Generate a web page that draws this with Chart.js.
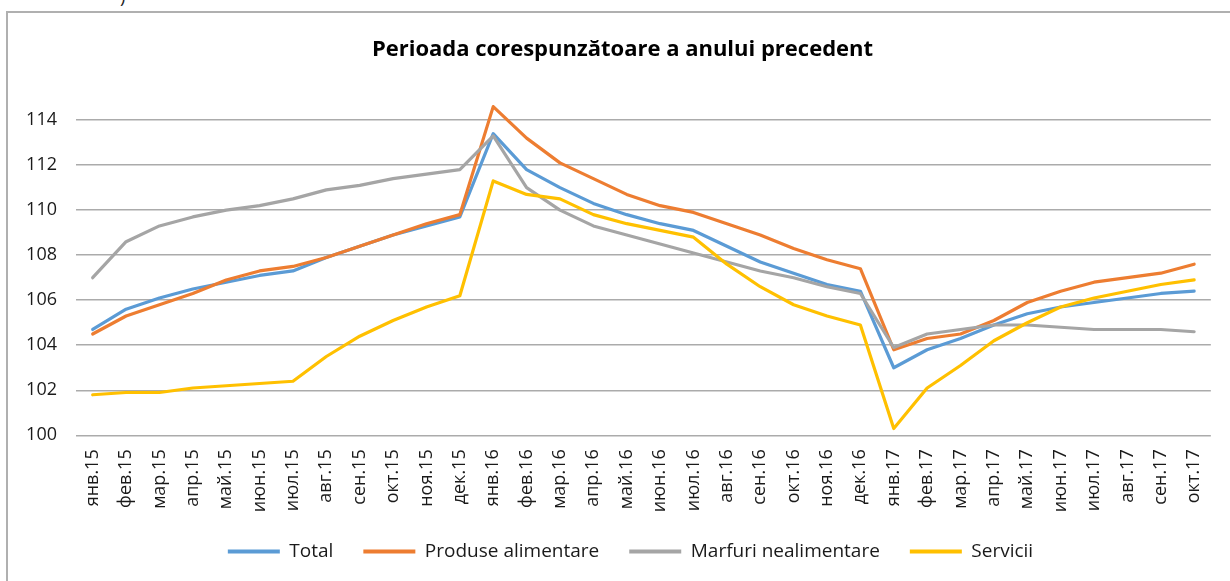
<!DOCTYPE html>
<html>
<head>
<meta charset="utf-8">
<script src="https://cdn.jsdelivr.net/npm/chart.js@4/dist/chart.umd.min.js"></script>
<style>
  html, body { margin: 0; padding: 0; background: #ffffff; }
  #wrap { position: relative; width: 1230px; height: 581px; overflow: hidden; }
  #frame { position: absolute; left: 6px; top: 11px; width: 1300px; height: 700px;
           border-left: 2px solid #b0b0b0; border-top: 2px solid #b0b0b0; pointer-events: none; }
  #stray { position: absolute; left: 118px; top: 0; width: 16px; height: 8px; overflow: hidden;
           font-family: "Open Sans", sans-serif; font-size: 18px; color: #222; }
  #stray span { position: absolute; left: 2px; top: -16px; }
  canvas { position: absolute; left: 0; top: 0; }
</style>
</head>
<body>
<div id="wrap">
  <div id="stray"><span>)</span></div>
  <canvas id="c" width="1230" height="581"></canvas>
  <div id="frame"></div>
</div>
<script>
const months = [
  "янв.15","фев.15","мар.15","апр.15","май.15","июн.15","июл.15","авг.15","сен.15","окт.15","ноя.15","дек.15",
  "янв.16","фев.16","мар.16","апр.16","май.16","июн.16","июл.16","авг.16","сен.16","окт.16","ноя.16","дек.16",
  "янв.17","фев.17","мар.17","апр.17","май.17","июн.17","июл.17","авг.17","сен.17","окт.17"
];
const total = [104.7,105.6,106.1,106.5,106.8,107.1,107.3,107.9,108.4,108.9,109.3,109.7,
  113.4,111.8,111.0,110.3,109.8,109.4,109.1,108.4,107.7,107.2,106.7,106.4,
  103.0,103.8,104.3,104.9,105.4,105.7,105.9,106.1,106.3,106.4];
const produseAlimentare = [104.5,105.3,105.8,106.3,106.9,107.3,107.5,107.9,108.4,108.9,109.4,109.8,
  114.6,113.2,112.1,111.4,110.7,110.2,109.9,109.4,108.9,108.3,107.8,107.4,
  103.8,104.3,104.5,105.1,105.9,106.4,106.8,107.0,107.2,107.6];
const marfuriNealimentare = [107.0,108.6,109.3,109.7,110.0,110.2,110.5,110.9,111.1,111.4,111.6,111.8,
  113.3,111.0,110.0,109.3,108.9,108.5,108.1,107.7,107.3,107.0,106.6,106.3,
  103.9,104.5,104.7,104.9,104.9,104.8,104.7,104.7,104.7,104.6];
const servicii = [101.8,101.9,101.9,102.1,102.2,102.3,102.4,103.5,104.4,105.1,105.7,106.2,
  111.3,110.7,110.5,109.8,109.4,109.1,108.8,107.6,106.6,105.8,105.3,104.9,
  100.3,102.1,103.1,104.2,105.0,105.7,106.1,106.4,106.7,106.9];
const seriesNames = ["Total","Produse alimentare","Marfuri nealimentare","Servicii"];
const yTicks = [100,102,104,106,108,110,112,114];
const titleText = "Perioada corespunzătoare a anului precedent";

const colors = ["#5B9BD5","#ED7D31","#A5A5A5","#FFC000"];
const seriesData = [total, produseAlimentare, marfuriNealimentare, servicii];
const FONT = "'Open Sans', 'Liberation Sans', sans-serif";

const datasets = seriesData.map((d, i) => ({
  label: seriesNames[i],
  data: d,
  borderColor: colors[i],
  backgroundColor: colors[i],
  borderWidth: 3.2,
  pointRadius: 0,
  pointHoverRadius: 0,
  tension: 0,
  fill: false,
  borderCapStyle: "round",
  borderJoinStyle: "round",
  pointStyle: "line",
  order: seriesData.length - 1 - i
}));

// shift the centred title and legend slightly right, as in the reference
const shiftBlocks = {
  id: "shiftBlocks",
  afterLayout(chart) {
    if (chart.legend) { chart.legend.left += 13; chart.legend.right += 13; }
    if (chart.titleBlock) { chart.titleBlock.left += 5; chart.titleBlock.right += 5; }
  }
};

new Chart(document.getElementById("c"), {
  type: "line",
  data: { labels: months, datasets },
  plugins: [shiftBlocks],
  options: {
    responsive: false,
    animation: false,
    events: [],
    layout: { padding: { left: 22, right: 17, top: 0, bottom: 10 } },
    plugins: {
      tooltip: { enabled: false },
      title: {
        display: true,
        text: titleText,
        color: "#000000",
        font: { family: FONT, size: 22, weight: "bold", lineHeight: 1.2 },
        padding: { top: 36.8, bottom: 34.4 }
      },
      legend: {
        display: true,
        position: "bottom",
        labels: {
          usePointStyle: true,
          pointStyleWidth: 52,
          boxHeight: 19,
          padding: 30,
          color: "#1a1a1a",
          font: { family: FONT, size: 19 },
          sort: (a, b) => a.datasetIndex - b.datasetIndex,
          generateLabels: chart => {
            const items = Chart.defaults.plugins.legend.labels.generateLabels(chart);
            items.forEach(it => { it.lineWidth = 4; });
            return items;
          }
        }
      }
    },
    scales: {
      x: {
        type: "category",
        offset: true,
        grid: { display: false, drawTicks: false },
        border: { display: false },
        ticks: {
          autoSkip: false,
          minRotation: 90,
          maxRotation: 90,
          padding: 14,
          color: "#1a1a1a",
          font: { family: FONT, size: 18 }
        },
        afterFit: s => { s.height = 76.7; }
      },
      y: {
        min: 100,
        max: 115,
        grid: { color: "#ababab", lineWidth: 1.5, drawTicks: false },
        border: { display: false },
        ticks: {
          stepSize: 2,
          padding: 19,
          color: "#1a1a1a",
          font: { family: FONT, size: 18 }
        },
        afterBuildTicks: s => { s.ticks = yTicks.map(v => ({ value: v })); },
        afterFit: s => { s.width = 54; }
      }
    }
  }
});
</script>
</body>
</html>
